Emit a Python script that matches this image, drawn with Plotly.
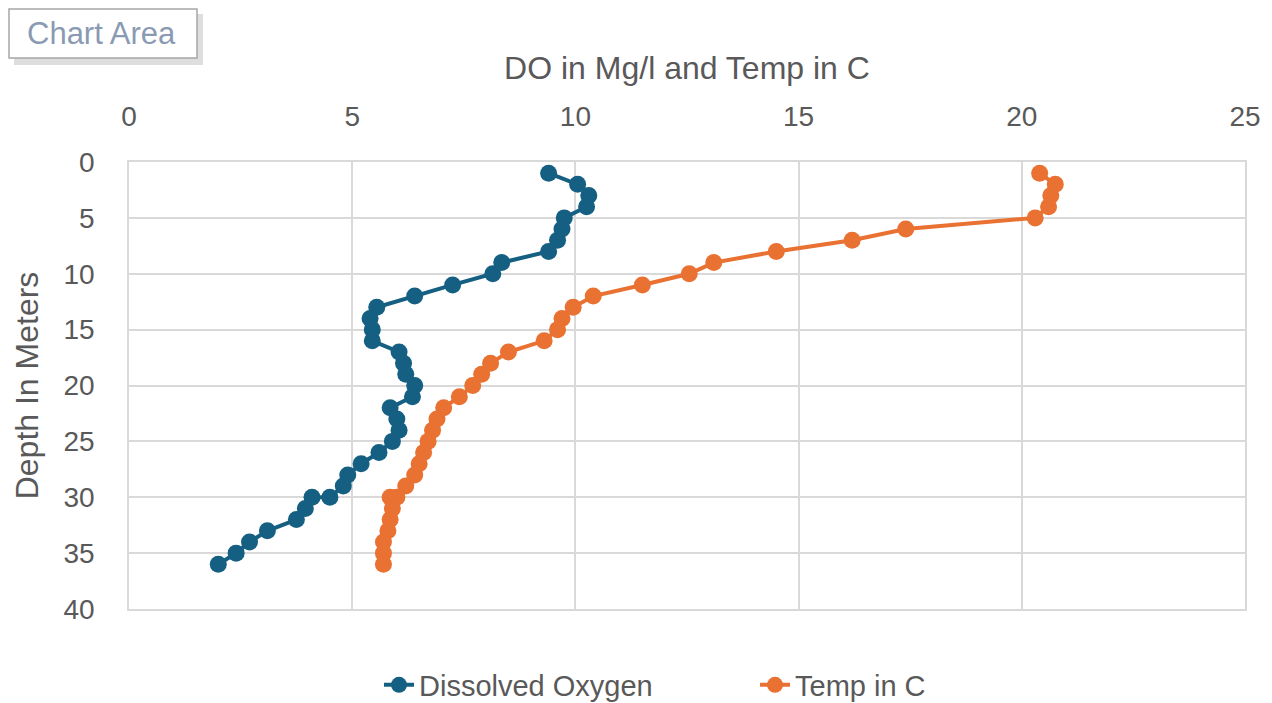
import plotly.graph_objects as go

depth = [1, 2, 3, 4, 5, 6, 7, 8, 9, 10, 11, 12, 13, 14, 15, 16, 17, 18, 19, 20,
         21, 22, 23, 24, 25, 26, 27, 28, 29, 30, 30, 31, 32, 33, 34, 35, 36]
dissolved_oxygen = [9.4, 10.05, 10.3, 10.25, 9.75, 9.7, 9.6, 9.4, 8.35, 8.15,
                    7.25, 6.4, 5.55, 5.4, 5.45, 5.45, 6.05, 6.15, 6.2, 6.4,
                    6.35, 5.85, 6.0, 6.05, 5.9, 5.6, 5.2, 4.9, 4.8, 4.5,
                    4.1, 3.95, 3.75, 3.1, 2.7, 2.4, 2.0]
temp_c = [20.4, 20.75, 20.65, 20.6, 20.3, 17.4, 16.2, 14.5, 13.1, 12.55,
          11.5, 10.4, 9.95, 9.7, 9.6, 9.3, 8.5, 8.1, 7.9, 7.7,
          7.4, 7.05, 6.9, 6.8, 6.7, 6.6, 6.5, 6.4, 6.2, 6.0,
          5.85, 5.9, 5.85, 5.8, 5.7, 5.7, 5.7]

x_ticks = [0, 5, 10, 15, 20, 25]
y_ticks = [0, 5, 10, 15, 20, 25, 30, 35, 40]

FONT = "Liberation Sans, Arial, sans-serif"
TXT = "#595959"
GRID = "#d9d9d9"

OFF = 8  # page body margin
W, H = 1272 - OFF, 703 - OFF
# plot area in page pixels: left 129, right 1245, top 162, bottom 609
L, T = 129 - OFF, 162 - OFF
R = W - (1245 - OFF)
B = H - (609 - OFF)
pw, ph = W - L - R, H - T - B

def px2x(p):
    return (p - OFF - L) / pw

def px2y(p):
    return (H - B - (p - OFF)) / ph

fig = go.Figure()
fig.add_trace(go.Scatter(
    x=dissolved_oxygen, y=depth, name="Dissolved Oxygen",
    mode="lines+markers",
    line=dict(color="#156082", width=4),
    marker=dict(color="#156082", size=17),
))
fig.add_trace(go.Scatter(
    x=temp_c, y=depth, name="Temp in C",
    mode="lines+markers",
    line=dict(color="#E97132", width=4),
    marker=dict(color="#E97132", size=17),
))

fig.update_layout(
    width=W, height=H,
    margin=dict(l=L, r=R, t=T, b=B),
    paper_bgcolor="white", plot_bgcolor="white",
    font=dict(family=FONT, color=TXT, size=28),
    showlegend=True,
    legend=dict(
        orientation="h", xref="container", yref="container",
        x=(379 - OFF) / W, xanchor="left",
        y=1 - (685 - OFF) / H, yanchor="middle",
        font=dict(size=29, color=TXT, family=FONT),
        entrywidth=331, entrywidthmode="pixels",
        traceorder="normal",
    ),
    xaxis=dict(
        side="top", range=[0, 25], tickvals=x_ticks,
        showgrid=True, gridcolor=GRID, gridwidth=1.5,
        showline=True, linecolor=GRID, linewidth=1.5, mirror=True,
        zeroline=False, ticks="", ticklabelstandoff=23,
        tickfont=dict(size=28, color=TXT, family=FONT),
        title=dict(text="DO in Mg/l and Temp in C",
                   font=dict(size=32, color=TXT, family=FONT), standoff=12),
    ),
    yaxis=dict(
        range=[40, 0], tickvals=y_ticks,
        showgrid=True, gridcolor=GRID, gridwidth=1.5,
        showline=True, linecolor=GRID, linewidth=1.5, mirror=True,
        zeroline=False, ticks="", ticklabelstandoff=27,
        tickfont=dict(size=28, color=TXT, family=FONT),
        title=dict(text="Depth In Meters",
                   font=dict(size=32, color=TXT, family=FONT), standoff=15),
    ),
)

# "Chart Area" tooltip box with soft shadow
fig.add_shape(type="rect", xref="paper", yref="paper",
              x0=px2x(14), x1=px2x(203), y0=px2y(14), y1=px2y(65),
              line=dict(width=0), fillcolor="rgba(0,0,0,0.13)", layer="above")
fig.add_shape(type="rect", xref="paper", yref="paper",
              x0=px2x(9), x1=px2x(197), y0=px2y(9), y1=px2y(58),
              line=dict(width=1.5, color="#a6a6a6"), fillcolor="white", layer="above")
fig.add_annotation(
    xref="paper", yref="paper", x=px2x(101), y=px2y(33),
    xanchor="center", yanchor="middle", showarrow=False,
    text="Chart Area",
    font=dict(size=31, color="#8A9AB3", family=FONT),
)

fig.write_html("out.html")
